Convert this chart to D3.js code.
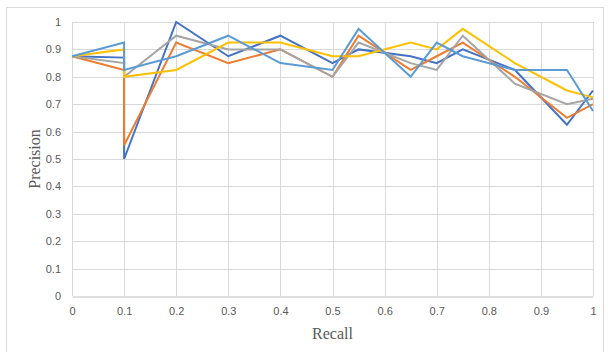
<!DOCTYPE html>
<html><head><meta charset="utf-8">
<script src="https://cdn.jsdelivr.net/npm/d3@7"></script>
<style>body{margin:0;background:#fff;} svg{display:block;}</style>
</head><body>
<svg id="c" width="608" height="352"></svg>
<script>
const recall = [0, 0.1, 0.1, 0.2, 0.3, 0.4, 0.5, 0.55, 0.65, 0.7, 0.75, 0.85, 0.95, 1];
const seriesBlue      = [0.875, 0.87, 0.5, 1.0, 0.875, 0.95, 0.85, 0.9, 0.875, 0.85, 0.9, 0.825, 0.625, 0.75];
const seriesOrange    = [0.875, 0.825, 0.55, 0.925, 0.85, 0.9, 0.8, 0.95, 0.825, 0.875, 0.925, 0.8, 0.65, 0.7];
const seriesGray      = [0.875, 0.85, 0.8, 0.95, 0.9, 0.9, 0.8, 0.925, 0.85, 0.825, 0.95, 0.775, 0.7, 0.72];
const seriesYellow    = [0.875, 0.9, 0.8, 0.825, 0.925, 0.925, 0.875, 0.875, 0.925, 0.9, 0.975, 0.85, 0.75, 0.725];
const seriesLightBlue = [0.875, 0.925, 0.825, 0.875, 0.95, 0.85, 0.825, 0.975, 0.8, 0.925, 0.875, 0.825, 0.825, 0.675];
const colors = ["#4472C4", "#ED7D31", "#A5A5A5", "#FFC000", "#5B9BD5"];
const xTicks = [0, 0.1, 0.2, 0.3, 0.4, 0.5, 0.6, 0.7, 0.8, 0.9, 1];
const yTicks = [0, 0.1, 0.2, 0.3, 0.4, 0.5, 0.6, 0.7, 0.8, 0.9, 1];

const svg = d3.select("#c");
const x = d3.scaleLinear().domain([0, 1]).range([72, 593]);
const y = d3.scaleLinear().domain([0, 1]).range([296, 22]);

svg.append("rect").attr("x", 6.5).attr("y", 7.5).attr("width", 597).attr("height", 360)
  .attr("fill", "none").attr("stroke", "#D9D9D9");

// gridlines
svg.append("g").selectAll("line").data(yTicks.filter(d => d > 0)).join("line")
  .attr("x1", x(0)).attr("x2", x(1)).attr("y1", d => Math.round(y(d)) + 0.5).attr("y2", d => Math.round(y(d)) + 0.5)
  .attr("stroke", "#D9D9D9");
svg.append("g").selectAll("line").data(xTicks).join("line")
  .attr("y1", y(0)).attr("y2", y(1)).attr("x1", d => Math.round(x(d)) + 0.5).attr("x2", d => Math.round(x(d)) + 0.5)
  .attr("stroke", "#D9D9D9");

// axes
const xAxis = d3.axisBottom(x).tickValues(xTicks).tickSize(0).tickPadding(11).tickFormat(d => d3.format("")(d));
const gx = svg.append("g").attr("transform", `translate(0,${Math.round(y(0)) + 0.5})`).call(xAxis);
gx.select(".domain").attr("stroke", "#BFBFBF");
gx.selectAll("text").attr("fill", "#595959").style("font-family", "Liberation Sans, Arial, sans-serif").style("font-size", "11px");

const yAxis = d3.axisLeft(y).tickValues(yTicks).tickSize(0).tickPadding(11).tickFormat(d => d3.format("")(d));
const gy = svg.append("g").attr("transform", `translate(${x(0)},0)`).call(yAxis);
gy.select(".domain").remove();
gy.selectAll("text").attr("fill", "#595959").style("font-family", "Liberation Sans, Arial, sans-serif").style("font-size", "11px");

// series
const all = [seriesBlue, seriesOrange, seriesGray, seriesYellow, seriesLightBlue];
const line = d3.line().x((d, i) => x(recall[i])).y(d => y(d));
all.forEach((s, k) => {
  svg.append("path").datum(s).attr("d", line).attr("fill", "none")
    .attr("stroke", colors[k]).attr("stroke-width", 2).attr("stroke-linejoin", "miter");
});

// titles
svg.append("text").attr("x", (x(0) + x(1)) / 2).attr("y", 339).attr("text-anchor", "middle")
  .style("font-family", "Liberation Serif, Times New Roman, serif").style("font-size", "16px").attr("fill", "#595959").text("Recall");
svg.append("text").attr("transform", `translate(40,${(y(0) + y(1)) / 2}) rotate(-90)`).attr("text-anchor", "middle")
  .style("font-family", "Liberation Serif, Times New Roman, serif").style("font-size", "16px").attr("fill", "#595959").text("Precision");
</script>
</body></html>
